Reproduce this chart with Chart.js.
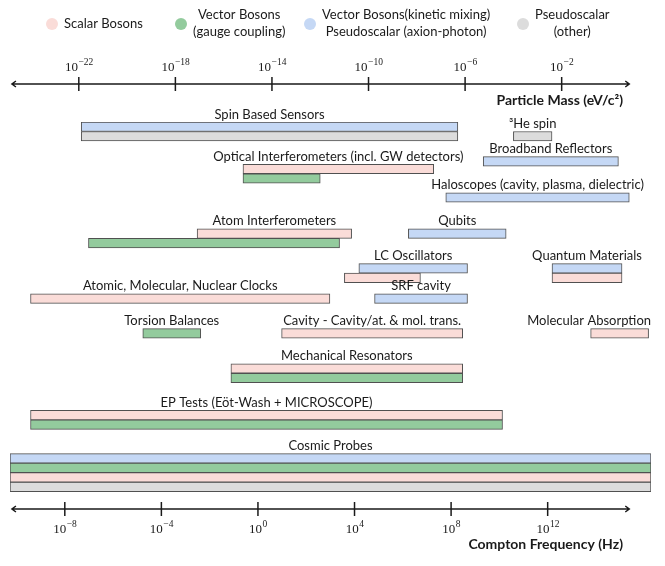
<!DOCTYPE html>
<html>
<head>
<meta charset="utf-8">
<script src="https://cdn.jsdelivr.net/npm/chart.js@4"></script>
<style>
  body { margin: 0; background: #fff; }
  #wrap { width: 665px; height: 566px; }
</style>
</head>
<body>
<div id="wrap"><canvas id="chart" width="665" height="566"></canvas></div>
<script>
const experiments = [
  'Spin Based Sensors', '\u00B3He spin', 'Broadband Reflectors',
  'Optical Interferometers (incl. GW detectors)', 'Haloscopes (cavity, plasma, dielectric)',
  'Atom Interferometers', 'Qubits', 'LC Oscillators', 'Quantum Materials',
  'Atomic, Molecular, Nuclear Clocks', 'SRF cavity', 'Torsion Balances',
  'Cavity - Cavity/at. & mol. trans.', 'Molecular Absorption',
  'Mechanical Resonators', 'EP Tests (E\u00F6t-Wash + MICROSCOPE)', 'Cosmic Probes'
];

// row of the top bar of each experiment (1 unit = one bar height)
const rows = [0.5, 1.5, 4.15, 4.95, 7.95, 11.75, 11.75, 15.4, 15.4, 18.6, 18.6,
  22.25, 22.25, 22.25, 25.95, 30.85, 35.4];

// coupling types stacked under each label, top to bottom
const stacks = [
  ['kinetic', 'pseudo'], ['pseudo'], ['kinetic'], ['scalar', 'vector'], ['kinetic'],
  ['scalar', 'vector'], ['kinetic'], ['kinetic', 'scalar'], ['kinetic', 'scalar'],
  ['scalar'], ['kinetic'], ['vector'], ['scalar'], ['scalar'],
  ['scalar', 'vector'], ['scalar', 'vector'], ['kinetic', 'vector', 'scalar', 'pseudo']
];

// mass reach, log10(m / eV)
const scalar = [null, null, null, [-15.2, -7.3], null, [-17.1, -10.7], null, [-11.0, -7.85],
  [-2.4, 0.5], [-24.0, -11.6], null, null, [-13.6, -6.1], [-0.8, 1.6], [-15.7, -6.1],
  [-24.0, -4.45], [-24.85, 1.7]];
const vector = [null, null, null, [-15.2, -12.0], null, [-21.6, -11.2], null, null, null,
  null, null, [-19.35, -16.95], null, null, [-15.7, -6.1], [-24.0, -4.45], [-24.85, 1.7]];
const kinetic = [[-21.9, -6.3], null, [-5.25, 0.35], null, [-6.8, 0.8], null, [-8.35, -4.3],
  [-10.4, -5.9], [-2.4, 0.5], null, [-9.75, -5.9], null, null, null, null, null, [-24.85, 1.7]];
const pseudo = [[-21.9, -6.3], [-4.0, -2.4], null, null, null, null, null, null, null,
  null, null, null, null, null, null, null, [-24.85, 1.7]];

const legendLabels = [
  ['Scalar Bosons'],
  ['Vector Bosons', '(gauge coupling)'],
  ['Vector Bosons(kinetic mixing)', 'Pseudoscalar (axion-photon)'],
  ['Pseudoscalar', '(other)']
];

const massTicks = [-22, -18, -14, -10, -6, -2];
const freqTicks = [-8, -4, 0, 4, 8, 12];
const massRange = [-24.85, 1.7];
const freqOffset = 14.58;   // log10(Hz) - log10(eV) as drawn on the axes

const types = ['scalar', 'vector', 'kinetic', 'pseudo'];
const series = { scalar, vector, kinetic, pseudo };
const fills = ['#fadcd8', '#93cb9d', '#c5d8f5', '#dcdcdc'];
const edge = '#505050';
const ink = '#1a1a1a';
const sans = 'Lato, "DejaVu Sans", sans-serif';
const serif = '"Liberation Serif", "DejaVu Serif", serif';
const barH = 9.5;

const datasets = types.map((t, k) => ({
  label: legendLabels[k].join(' '),
  data: experiments.flatMap((name, i) => {
    const r = series[t][i];
    if (!r) return [];
    return [{ x: [10 ** r[0], 10 ** r[1]], y: rows[i] + stacks[i].indexOf(t) }];
  }),
  backgroundColor: fills[k],
  borderColor: edge,
  borderWidth: 1,
  borderSkipped: false,
  barThickness: barH,
  grouped: false
}));

function power(ctx, x, y, e) {
  const sup = String(e).replace('-', '\u2212');
  ctx.font = '13px ' + serif;
  const bw = ctx.measureText('10').width;
  ctx.font = '9.5px ' + serif;
  const sw = ctx.measureText(sup).width;
  const left = x - (bw + sw) / 2;
  ctx.textAlign = 'left';
  ctx.textBaseline = 'alphabetic';
  ctx.font = '13px ' + serif;
  ctx.fillText('10', left, y);
  ctx.font = '9.5px ' + serif;
  ctx.fillText(sup, left + bw + 0.5, y - 6);
}

function arrowAxis(ctx, scale, y, ticks, shift, labelDy) {
  const x0 = scale.getPixelForValue(10 ** (-24.77 + shift));
  const x1 = scale.getPixelForValue(10 ** (0.8 + shift));
  ctx.strokeStyle = ink;
  ctx.lineWidth = 1.5;
  ctx.beginPath();
  ctx.moveTo(x0, y); ctx.lineTo(x1, y);
  ctx.moveTo(x0 + 4, y - 3); ctx.lineTo(x0, y); ctx.lineTo(x0 + 4, y + 3);
  ctx.moveTo(x1 - 4, y - 3); ctx.lineTo(x1, y); ctx.lineTo(x1 - 4, y + 3);
  ctx.stroke();
  ctx.fillStyle = ink;
  ticks.forEach(e => {
    const x = scale.getPixelForValue(10 ** e);
    ctx.beginPath();
    ctx.moveTo(x, y - 7); ctx.lineTo(x, y + 7);
    ctx.stroke();
    power(ctx, x, y + labelDy, e);
  });
}

const decor = {
  id: 'decor',
  afterDraw(chart) {
    const ctx = chart.ctx;
    const xs = chart.scales.x, fx = chart.scales.x2, ys = chart.scales.y;
    const area = chart.chartArea;
    ctx.save();

    // experiment names above their top bar
    ctx.fillStyle = ink;
    ctx.font = '13px ' + sans;
    ctx.textAlign = 'center';
    ctx.textBaseline = 'alphabetic';
    experiments.forEach((name, i) => {
      const r = series[stacks[i][0]][i];
      const a = xs.getPixelForValue(10 ** r[0]);
      const b = xs.getPixelForValue(10 ** r[1]);
      const w = ctx.measureText(name).width;
      const cx = Math.min(Math.max((a + b) / 2, w / 2 + 2), area.right - w / 2);
      ctx.fillText(name, cx, ys.getPixelForValue(rows[i]) - barH / 2 - 3.5);
    });

    // axes with arrows
    arrowAxis(ctx, xs, area.top - 38, massTicks, 0, -13);
    arrowAxis(ctx, fx, area.bottom + 16.5, freqTicks, freqOffset, 24);

    ctx.fillStyle = ink;
    ctx.font = 'bold 14px ' + sans;
    ctx.textAlign = 'right';
    ctx.fillText('Particle Mass (eV/c\u00B2)', 623, area.top - 17);
    ctx.fillText('Compton Frequency (Hz)', 623, area.bottom + 56.5);

    // legend
    const dotX = [52, 181, 310, 523];
    legendLabels.forEach((lines, k) => {
      ctx.fillStyle = fills[k];
      ctx.beginPath();
      ctx.arc(dotX[k], 24, 6, 0, Math.PI * 2);
      ctx.fill();
      ctx.fillStyle = ink;
      ctx.font = '13px ' + sans;
      const w = Math.max(...lines.map(s => ctx.measureText(s).width));
      const cx = dotX[k] + 12 + w / 2;
      ctx.textAlign = 'center';
      ctx.textBaseline = 'middle';
      lines.forEach((s, j) => {
        const y = lines.length === 1 ? 24 : 14.5 + j * 17;
        ctx.fillText(s, cx, y);
      });
    });
    ctx.restore();
  }
};

new Chart(document.getElementById('chart'), {
  type: 'bar',
  data: { datasets },
  options: {
    indexAxis: 'y',
    responsive: false,
    animation: false,
    layout: { padding: { left: 10, right: 14, top: 122, bottom: 73.5 } },
    scales: {
      x: { type: 'logarithmic', position: 'top', display: false, offset: false, bounds: 'data',
           min: 10 ** massRange[0], max: 10 ** massRange[1] },
      x2: { type: 'logarithmic', position: 'bottom', display: false, offset: false, bounds: 'data',
            min: 10 ** (massRange[0] + freqOffset), max: 10 ** (massRange[1] + freqOffset) },
      y: { type: 'linear', reverse: true, display: false, offset: false, min: 0, max: 39 }
    },
    plugins: {
      legend: { display: false },
      tooltip: { enabled: false }
    }
  },
  plugins: [decor]
});
</script>
</body>
</html>
